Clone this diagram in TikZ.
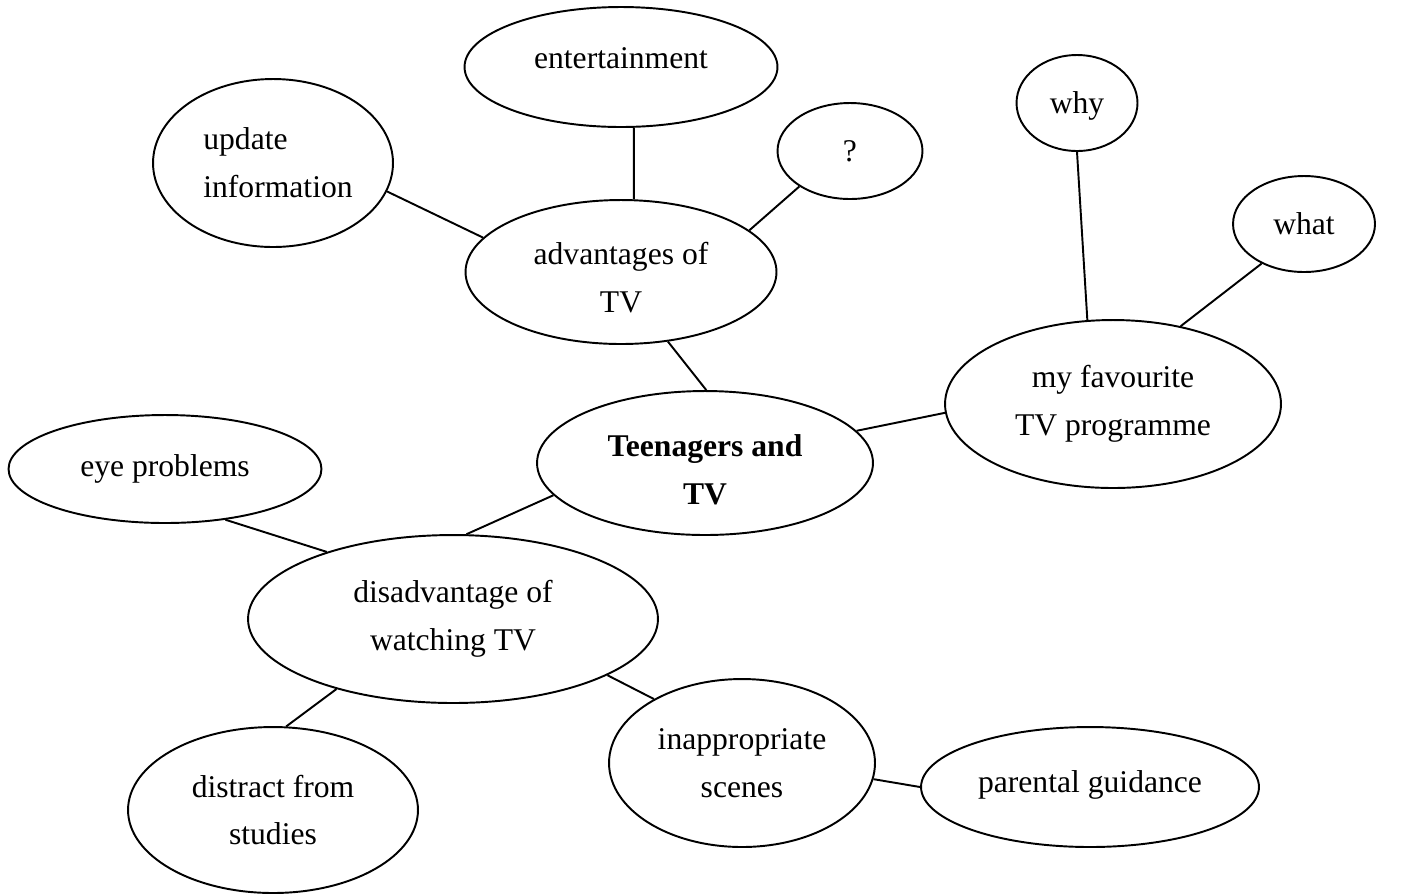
\documentclass[tikz,border=0pt]{standalone}
\usepackage{fontspec}
\setmainfont{Liberation Serif}
\usetikzlibrary{shapes.geometric}
\tikzset{
  ell/.style={ellipse, draw, line width=1.1pt, inner sep=0pt, align=center,
              font=\fontsize{18}{27.3}\selectfont},
  conn/.style={line width=1.1pt}
}
\begin{document}
\begin{tikzpicture}[x=0.02cm, y=-0.02cm]
\useasboundingbox (0,0) rectangle (1408,894);
\node[ell, minimum width=6.26cm, minimum height=2.4cm]  (ent)   at (621,67)  {\rule[-10.2pt]{0pt}{1pt}entertainment};
\node[ell, minimum width=4.8cm,  minimum height=3.36cm, align=left] (upd) at (273,163) {\hspace*{0.2cm}update\\\hspace*{0.2cm}information};
\node[ell, minimum width=2.9cm,  minimum height=1.92cm] (q)     at (850,151) {?};
\node[ell, minimum width=2.42cm, minimum height=1.92cm] (why)   at (1077,103) {\rule{0pt}{16pt}why};
\node[ell, minimum width=2.84cm, minimum height=1.92cm] (what)  at (1304,224) {what};
\node[ell, minimum width=6.22cm, minimum height=2.88cm] (adv)   at (621,272) {\rule{0pt}{19.5pt}advantages of\\TV};
\node[ell, minimum width=6.72cm, minimum height=3.36cm] (fav)   at (1113,404) {my favourite\\TV programme};
\node[ell, minimum width=6.72cm, minimum height=2.88cm, font=\fontsize{18}{27.3}\selectfont\bfseries] (teen) at (705,463) {\rule{0pt}{20.5pt}Teenagers and\\TV};
\node[ell, minimum width=6.26cm, minimum height=2.16cm] (eye)   at (165,469) {eye problems};
\node[ell, minimum width=8.2cm,  minimum height=3.36cm] (dis)   at (453,619) {disadvantage of\\watching TV};
\node[ell, minimum width=5.32cm, minimum height=3.36cm] (inap)  at (742,763) {inappropriate\\scenes};
\node[ell, minimum width=6.76cm, minimum height=2.4cm]  (par)   at (1090,787) {\rule[-6.8pt]{0pt}{1pt}parental guidance};
\node[ell, minimum width=5.8cm,  minimum height=3.32cm] (dist)  at (273,810) {distract from\\studies};

\draw[conn] (upd.-14.6) -- (adv.166);
\draw[conn] (ent.-78.7) -- (adv.80.5);
\draw[conn] (q.215.8) -- (adv.18.8);
\draw[conn] (why.270) -- (fav.107.8);
\draw[conn] (what.223.4) -- (fav.49.3);
\draw[conn] (adv.-56.5) -- (teen.89.2);
\draw[conn] (teen.12.2) -- (fav.183.4);
\draw[conn] (teen.192) -- (dis.81.9);
\draw[conn] (eye.-40.3) -- (dis.152.2);
\draw[conn] (dis.211.4) -- (dist.81.8);
\draw[conn] (dis.-20.6) -- (inap.144.3);
\draw[conn] (inap.-7.4) -- (par.180);
\end{tikzpicture}
\end{document}
